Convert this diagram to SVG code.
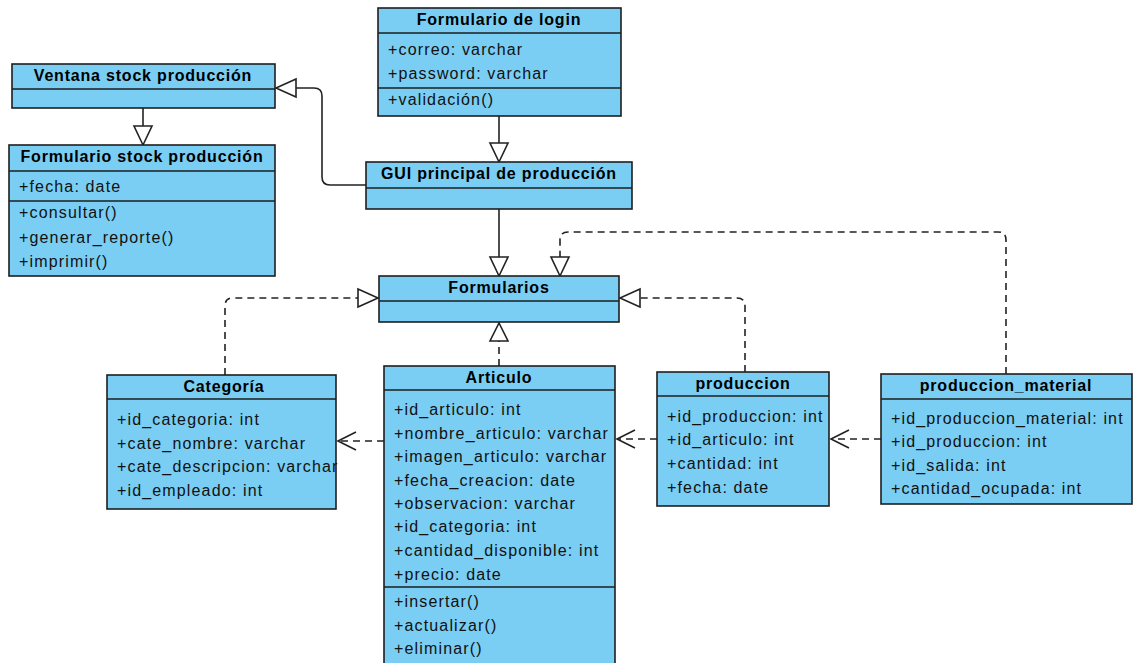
<svg xmlns="http://www.w3.org/2000/svg" width="1137" height="663" viewBox="0 0 1137 663">
  <style>
    .box { fill: #7acdf3; stroke: #1e1e1e; stroke-width: 1.6; }
    .sep { stroke: #1e1e1e; stroke-width: 1.6; }
    .title { font-family: "Liberation Sans", Arial, sans-serif; font-size: 16px; font-weight: bold; fill: #000; text-anchor: middle; letter-spacing: 0.8px; }
    .member { font-family: "Liberation Sans", Arial, sans-serif; font-size: 16px; fill: #111; letter-spacing: 1.15px; }
    .solid { fill: none; stroke: #222; stroke-width: 1.6; }
    .dash { fill: none; stroke: #222; stroke-width: 1.6; stroke-dasharray: 7 5; }
    .tri { fill: #fff; stroke: #222; stroke-width: 1.6; }
    .open { fill: none; stroke: #222; stroke-width: 1.6; }
  </style>
  <rect width="1137" height="663" fill="#fff"/>

  <!-- connectors -->
  <g id="connectors">
    <!-- Ventana -> Formulario stock -->
    <line class="solid" x1="143" y1="108" x2="143" y2="126"/>
    <polygon class="tri" points="134,126 152,126 143,145"/>
    <!-- GUI -> Ventana -->
    <path class="solid" d="M366,185 H330 Q322,185 322,177 V96 Q322,88 314,88 H296"/>
    <polygon class="tri" points="296,79 296,97 276,88"/>
    <!-- login -> GUI -->
    <line class="solid" x1="499" y1="116" x2="499" y2="143"/>
    <polygon class="tri" points="490,143 508,143 499,162"/>
    <!-- GUI -> Formularios -->
    <line class="solid" x1="499" y1="209" x2="499" y2="257"/>
    <polygon class="tri" points="490,257 508,257 499,276"/>
    <!-- produccion_material -> Formularios -->
    <path class="dash" d="M1006,374 V240 Q1006,232 998,232 H568 Q560,232 560,240 V257"/>
    <polygon class="tri" points="551,257 569,257 560,276"/>
    <!-- produccion -> Formularios -->
    <path class="dash" d="M745,372 V306 Q745,298 737,298 H640"/>
    <polygon class="tri" points="640,289 640,307 620,298"/>
    <!-- Articulo -> Formularios -->
    <line class="dash" x1="499" y1="366" x2="499" y2="341"/>
    <polygon class="tri" points="490,341 508,341 499,323"/>
    <!-- Categoria -> Formularios -->
    <path class="dash" d="M225,375 V306 Q225,298 233,298 H358"/>
    <polygon class="tri" points="358,289 358,307 378,298"/>
    <!-- Articulo -> Categoria -->
    <line class="dash" x1="384" y1="441" x2="338" y2="441"/>
    <polyline class="open" points="356,432 338,441 356,450"/>
    <!-- produccion -> Articulo -->
    <line class="dash" x1="657" y1="439" x2="617" y2="439"/>
    <polyline class="open" points="635,430 617,439 635,448"/>
    <!-- produccion_material -> produccion -->
    <line class="dash" x1="881" y1="439" x2="831" y2="439"/>
    <polyline class="open" points="849,430 831,439 849,448"/>
  </g>

  <g id="ventana-stock">
    <rect class="box" x="12" y="64" width="263" height="44"/>
    <line class="sep" x1="12" y1="89" x2="275" y2="89"/>
    <text class="title" x="143" y="81">Ventana stock producción</text>
  </g>

  <g id="formulario-stock">
    <rect class="box" x="9" y="145" width="266" height="131"/>
    <line class="sep" x1="9" y1="171" x2="275" y2="171"/>
    <line class="sep" x1="9" y1="201" x2="275" y2="201"/>
    <text class="title" x="142" y="162">Formulario stock producción</text>
    <text class="member" x="19" y="192">+fecha: date</text>
    <text class="member" x="19" y="218">+consultar()</text>
    <text class="member" x="19" y="243">+generar_reporte()</text>
    <text class="member" x="19" y="267">+imprimir()</text>
  </g>

  <g id="formulario-login">
    <rect class="box" x="378" y="8" width="243" height="108"/>
    <line class="sep" x1="378" y1="33" x2="621" y2="33"/>
    <line class="sep" x1="378" y1="88" x2="621" y2="88"/>
    <text class="title" x="499" y="25">Formulario de login</text>
    <text class="member" x="388" y="55">+correo: varchar</text>
    <text class="member" x="388" y="79">+password: varchar</text>
    <text class="member" x="388" y="105">+validación()</text>
  </g>

  <g id="gui-principal">
    <rect class="box" x="366" y="162" width="266" height="47"/>
    <line class="sep" x1="366" y1="188" x2="632" y2="188"/>
    <text class="title" x="499" y="179">GUI principal de producción</text>
  </g>

  <g id="formularios">
    <rect class="box" x="379" y="276" width="240" height="46"/>
    <line class="sep" x1="379" y1="301" x2="619" y2="301"/>
    <text class="title" x="499" y="293">Formularios</text>
  </g>

  <g id="categoria">
    <rect class="box" x="107" y="375" width="229" height="134"/>
    <line class="sep" x1="107" y1="399" x2="336" y2="399"/>
    <text class="title" x="224" y="392">Categoría</text>
    <text class="member" x="117" y="425">+id_categoria: int</text>
    <text class="member" x="117" y="449">+cate_nombre: varchar</text>
    <text class="member" x="117" y="472">+cate_descripcion: varchar</text>
    <text class="member" x="117" y="496">+id_empleado: int</text>
  </g>

  <g id="articulo">
    <rect class="box" x="384" y="366" width="231" height="300"/>
    <line class="sep" x1="384" y1="390" x2="615" y2="390"/>
    <line class="sep" x1="384" y1="587" x2="615" y2="587"/>
    <text class="title" x="499" y="383">Articulo</text>
    <text class="member" x="394" y="415">+id_articulo: int</text>
    <text class="member" x="394" y="439">+nombre_articulo: varchar</text>
    <text class="member" x="394" y="462">+imagen_articulo: varchar</text>
    <text class="member" x="394" y="486">+fecha_creacion: date</text>
    <text class="member" x="394" y="509">+observacion: varchar</text>
    <text class="member" x="394" y="532">+id_categoria: int</text>
    <text class="member" x="394" y="556">+cantidad_disponible: int</text>
    <text class="member" x="394" y="580">+precio: date</text>
    <text class="member" x="394" y="607">+insertar()</text>
    <text class="member" x="394" y="631">+actualizar()</text>
    <text class="member" x="394" y="654">+eliminar()</text>
  </g>

  <g id="produccion">
    <rect class="box" x="657" y="372" width="172" height="134"/>
    <line class="sep" x1="657" y1="396" x2="829" y2="396"/>
    <text class="title" x="743" y="389">produccion</text>
    <text class="member" x="667" y="422">+id_produccion: int</text>
    <text class="member" x="667" y="445">+id_articulo: int</text>
    <text class="member" x="667" y="469">+cantidad: int</text>
    <text class="member" x="667" y="493">+fecha: date</text>
  </g>

  <g id="produccion-material">
    <rect class="box" x="881" y="374" width="251" height="130"/>
    <line class="sep" x1="881" y1="399" x2="1132" y2="399"/>
    <text class="title" x="1006" y="391">produccion_material</text>
    <text class="member" x="891" y="424">+id_produccion_material: int</text>
    <text class="member" x="891" y="447">+id_produccion: int</text>
    <text class="member" x="891" y="471">+id_salida: int</text>
    <text class="member" x="891" y="494">+cantidad_ocupada: int</text>
  </g>
</svg>
